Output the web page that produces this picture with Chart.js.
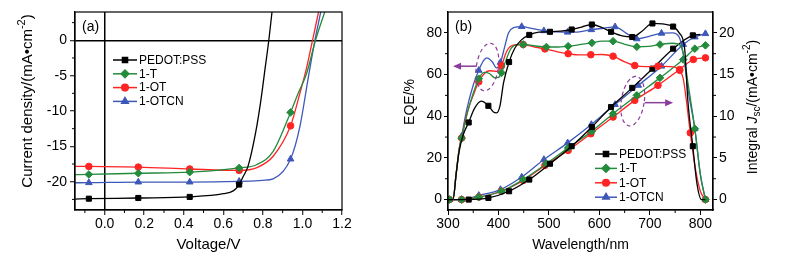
<!DOCTYPE html>
<html>
<head>
<meta charset="utf-8">
<script src="https://cdn.jsdelivr.net/npm/chart.js@4.4.0/dist/chart.umd.min.js"></script>
<style>
  html, body { margin: 0; padding: 0; background: #fff; }
  #wrap { position: relative; width: 785px; height: 261px; overflow: hidden; }
  #jv { position: absolute; left: 0; top: 0; }
  #eqe { position: absolute; left: 390px; top: 0; }
</style>
</head>
<body>
<div id="wrap">
  <canvas id="jv" width="390" height="261"></canvas>
  <canvas id="eqe" width="395" height="261"></canvas>
</div>
<script>
const FONT = '"Liberation Sans", Arial, sans-serif';
const names = ['PEDOT:PSS', '1-T', '1-OT', '1-OTCN'];
const colors = ['#000000', '#238b3c', '#ff2424', '#3d58b8'];
const shapes = ['rect', 'rectRot', 'circle', 'triangle'];
const sizes = [3.6, 3.8, 3.3, 3.8];

// ---- (a) J-V curves ----
const jvTicksX = [0, 0.2, 0.4, 0.6, 0.8, 1.0, 1.2];
const jvTicksY = [-20, -15, -10, -5, 0];
const jvMarks = [-0.08, 0.17, 0.43, 0.68, 0.94];

const pedotV = [-0.15, -0.08, 0.17, 0.43, 0.6, 0.65, 0.68, 0.70, 0.725, 0.763, 0.79, 0.812, 0.83, 0.848];
const pedotJ = [-22.45, -22.4, -22.3, -22.15, -21.7, -21.3, -20.4, -19.3, -17.8, -13.1, -8.45, -3.8, 0, 4.5];
const tV = [-0.15, -0.08, 0.17, 0.43, 0.68, 0.768, 0.852, 0.94, 0.98, 1.021, 1.066, 1.115];
const tJ = [-19.0, -18.97, -18.8, -18.65, -18.05, -17.6, -15.7, -10.2, -7.4, -4.7, 0, 4.2];
const otV = [-0.15, -0.08, 0.17, 0.43, 0.68, 0.77, 0.852, 0.94, 0.987, 1.02, 1.051, 1.083];
const otJ = [-17.82, -17.84, -17.93, -18.2, -18.4, -18.0, -16.4, -12.1, -7.5, -4.0, 0, 4.2];
const otcnV = [-0.15, -0.08, 0.17, 0.43, 0.68, 0.8, 0.852, 0.94, 0.987, 1.03, 1.063, 1.094];
const otcnJ = [-20.15, -20.14, -20.05, -20.05, -19.95, -19.8, -19.6, -16.8, -12.2, -5.2, 0, 4.2];

// ---- (b) EQE and integral Jsc ----
const wlTicks = [300, 400, 500, 600, 700, 800];
const eqeTicks = [0, 20, 40, 60, 80];
const jscTicks = [0, 5, 10, 15, 20];

const pedotEqeWl = [300,310,316,322,330,341,352,366,380,390,396,403,410,421,432,445,461,480,502,523,545,565,585,605,623,645,665,683,705,725,746,758,769,775,785,793,802,810];
const pedotEqe = [0,0,12,23,31,37,43.5,47.2,45,42,41.6,45,56,66,72.5,76.5,79,80.3,80.5,80.8,81.6,82.8,84,82.5,80.5,78.5,78,80.5,84.5,84.3,83,80,72,48,25.6,8,0,0];
const pedotEqeMarks = [341,380,421,461,502,545,585,623,665,705,746,785];

const tEqeWl = [300,310,316,322,327,340,350,361,372,382,393,400,406,415,425,437,449,470,495,515,538,560,585,605,627,650,674,697,720,745,760,768,776,789,800,810];
const tEqe = [0,0,12,24,29.5,43,51,58,61,60.5,58.4,58.6,60.8,67,72.5,74.3,74.4,73.8,73.2,73.2,73.6,74.3,75.2,76,76,74.5,73.3,73.5,74.4,75,74,68,55,34,12,0];
const tEqeMarks = [327,361,406,449,495,538,585,627,674,720,789,810];

const otEqeWl = [300,310,316,322,327,337,350,361,372,382,392,399,406,416,428,449,470,492,515,538,560,583,605,627,648,670,693,716,740,759,766,772,780,790,800,810];
const otEqe = [0,0,12,24,29.5,41,50,56.5,60.5,61.8,61.6,61.5,64.2,71,74,74.4,73.3,72.3,71,70,69.4,69.5,69.6,68.8,66.3,64.3,63.8,64,63.8,62,58,48,32,15,4,0];
const otEqeMarks = [327,361,406,449,492,538,583,627,670,716,759,780,810];

const otcnEqeWl = [300,310,316,322,327,337,350,361,370,377,388,396,404,412,420,430,446,468,490,515,537,560,584,608,631,652,674,697,723,745,758,766,776,789,800,810];
const otcnEqe = [0,0,12,24,30.4,43,55,62,66.5,68,66,63.2,65.8,73,80,82.5,83,82,81,80.5,80.3,80.5,81.5,82.2,82.9,80,77.1,78.2,79.8,80,78,70,52,34,12,0];
const otcnEqeMarks = [327,361,404,446,490,537,584,631,674,723,789,810];

const pedotJscWl = [300,341,380,421,461,502,545,585,623,665,705,746,785,800];
const pedotJsc = [0,0,0.2,1.0,2.4,4.3,6.4,8.7,11.1,13.4,15.7,18.1,19.7,19.8];
const tJscWl = [303,327,361,406,449,495,538,585,627,674,720,766,789,810];
const tJsc = [0,0,0.3,1.0,2.4,4.3,6.2,8.2,10.3,12.5,14.6,16.8,18.1,18.5];
const otJscWl = [303,327,361,406,449,492,538,583,627,670,716,759,786,810];
const otJsc = [0,0,0.3,1.0,2.3,4.1,5.9,7.9,9.9,11.9,13.7,15.6,16.8,17.0];
const otcnJscWl = [303,327,361,404,446,490,537,584,631,677,723,766,789,810];
const otcnJsc = [0,0,0.5,1.2,2.7,4.8,6.8,9.0,11.4,13.7,16.0,18.6,19.5,19.9];

function pts(xs, ys) { return xs.map((x, i) => ({ x: x, y: ys[i] })); }

function series(i, xs, ys, marks, axis) {
  return {
    label: names[i],
    data: pts(xs, ys),
    yAxisID: axis,
    borderColor: colors[i],
    backgroundColor: colors[i],
    borderWidth: 1.3,
    cubicInterpolationMode: 'monotone',
    pointStyle: shapes[i],
    markerSize: sizes[i],
    pointRadius: c => (c.raw && (marks === true || marks.includes(c.raw.x))) ? sizes[i] : 0,
    pointHoverRadius: 0,
    pointBackgroundColor: colors[i],
    pointBorderColor: colors[i],
    pointBorderWidth: 1
  };
}

// frame box + minor ticks
const framePlugin = {
  id: 'frame',
  afterDraw(chart, args, opts) {
    const { ctx, chartArea: a } = chart;
    ctx.save();
    ctx.strokeStyle = '#000';
    ctx.lineWidth = 1.2;
    ctx.strokeRect(a.left, a.top, a.right - a.left, a.bottom - a.top);
    ctx.lineWidth = 1;
    (opts.minor || []).forEach(m => {
      const s = chart.scales[m.id];
      for (let k = 0; ; k++) {
        const v = m.from + k * m.step;
        if (v > m.to + 1e-9) break;
        const p = s.getPixelForValue(v);
        ctx.beginPath();
        if (m.side === 'bottom') { ctx.moveTo(p, a.bottom); ctx.lineTo(p, a.bottom + 3); }
        else if (m.side === 'left') { ctx.moveTo(a.left, p); ctx.lineTo(a.left - 3, p); }
        else { ctx.moveTo(a.right, p); ctx.lineTo(a.right + 3, p); }
        ctx.stroke();
      }
    });
    ctx.restore();
  }
};

// legend drawn inside the plot
const boxLegend = {
  id: 'boxLegend',
  afterDraw(chart, args, o) {
    const ctx = chart.ctx;
    ctx.save();
    ctx.font = '12px ' + FONT;
    ctx.textBaseline = 'middle';
    ctx.textAlign = 'left';
    o.items.forEach((idx, i) => {
      const ds = chart.data.datasets[idx];
      const y = o.y + i * o.gap;
      ctx.strokeStyle = ds.borderColor;
      ctx.fillStyle = ds.borderColor;
      ctx.lineWidth = 1.5;
      ctx.beginPath();
      ctx.moveTo(o.x, y);
      ctx.lineTo(o.x + o.len, y);
      ctx.stroke();
      Chart.helpers.drawPoint(ctx, { pointStyle: ds.pointStyle, radius: ds.markerSize, borderWidth: 1, rotation: 0 }, o.x + o.len / 2, y);
      ctx.fillStyle = '#000';
      ctx.fillText(ds.label, o.x + o.len + 2, y + 0.5);
    });
    ctx.restore();
  }
};

// rotated axis title with super/subscripts
function richTitle(ctx, parts, x, y, size) {
  ctx.save();
  ctx.translate(x, y);
  ctx.rotate(-Math.PI / 2);
  const fontOf = p => (p.it ? 'italic ' : '') + ((p.sup || p.sub) ? Math.round(size * 0.7) : size) + 'px ' + FONT;
  let w = 0;
  parts.forEach(p => { ctx.font = fontOf(p); p.w = ctx.measureText(p.t).width; w += p.w; });
  let cx = -w / 2;
  ctx.textBaseline = 'middle';
  ctx.textAlign = 'left';
  ctx.fillStyle = '#000';
  parts.forEach(p => {
    ctx.font = fontOf(p);
    const dy = p.sup ? -size * 0.38 : (p.sub ? size * 0.28 : 0);
    ctx.fillText(p.t, cx, dy);
    cx += p.w;
  });
  ctx.restore();
}

function ellipse(ctx, x, y, rx, ry, rot) {
  ctx.beginPath();
  ctx.ellipse(x, y, rx, ry, rot, 0, Math.PI * 2);
  ctx.stroke();
}

function arrow(ctx, x1, y1, x2, y2) {
  const dir = Math.sign(x2 - x1);
  ctx.beginPath();
  ctx.moveTo(x1, y1);
  ctx.lineTo(x2 - dir * 6, y2);
  ctx.stroke();
  ctx.beginPath();
  ctx.moveTo(x2, y2);
  ctx.lineTo(x2 - dir * 8, y2 - 3.5);
  ctx.lineTo(x2 - dir * 8, y2 + 3.5);
  ctx.closePath();
  ctx.fill();
}

const jvDecor = {
  id: 'jvDecor',
  afterDraw(chart) {
    const ctx = chart.ctx;
    ctx.save();
    ctx.fillStyle = '#000';
    ctx.font = '14px ' + FONT;
    ctx.textBaseline = 'middle';
    ctx.fillText('(a)', 82, 27);
    ctx.restore();
    richTitle(ctx, [{ t: 'Current density/(mA•cm' }, { t: '-2', sup: true }, { t: ')' }], 28, 101, 15);
  }
};

const eqeDecor = {
  id: 'eqeDecor',
  afterDraw(chart) {
    const ctx = chart.ctx;
    const sx = chart.scales.x, sy = chart.scales.y;
    ctx.save();
    ctx.fillStyle = '#000';
    ctx.font = '14px ' + FONT;
    ctx.textBaseline = 'middle';
    ctx.fillText('(b)', 65, 27);
    // purple guides
    ctx.strokeStyle = '#8c3c9c';
    ctx.fillStyle = '#8c3c9c';
    ctx.lineWidth = 1.2;
    ctx.setLineDash([4, 3]);
    ellipse(ctx, sx.getPixelForValue(378), sy.getPixelForValue(63.6), 11, 24, 0.15);
    ellipse(ctx, sx.getPixelForValue(666), sy.getPixelForValue(47.2), 11.5, 25, 0.15);
    ctx.setLineDash([]);
    ctx.lineWidth = 1.5;
    arrow(ctx, sx.getPixelForValue(357), sy.getPixelForValue(64), sx.getPixelForValue(310), sy.getPixelForValue(64));
    arrow(ctx, sx.getPixelForValue(690), sy.getPixelForValue(46.5), sx.getPixelForValue(746), sy.getPixelForValue(46.5));
    ctx.restore();
    richTitle(ctx, [{ t: 'EQE/%' }], 20, 102, 14);
    richTitle(ctx, [{ t: 'Integral ' }, { t: 'J', it: true }, { t: 'sc', sub: true }, { t: '/(mA•cm' }, { t: '-2', sup: true }, { t: ')' }], 363, 107, 14);
  }
};

const tickFont = { family: FONT, size: 14 };

// ---- chart (a) ----
new Chart(document.getElementById('jv'), {
  type: 'line',
  data: {
    datasets: [
      series(0, pedotV, pedotJ, jvMarks, 'y'),
      series(1, tV, tJ, jvMarks, 'y'),
      series(2, otV, otJ, jvMarks, 'y'),
      series(3, otcnV, otcnJ, jvMarks, 'y')
    ]
  },
  options: {
    responsive: false,
    animation: false,
    layout: { padding: { left: 0, top: 12, right: 48, bottom: 0 } },
    plugins: {
      legend: { display: false },
      tooltip: { enabled: false },
      frame: {
        minor: [
          { id: 'x', from: -0.1, to: 1.1, step: 0.2, side: 'bottom' },
          { id: 'y', from: -22.5, to: 2.5, step: 5, side: 'left' }
        ]
      },
      boxLegend: { items: [0, 1, 2, 3], x: 113, len: 24, y: 60, gap: 13.8 }
    },
    scales: {
      x: {
        type: 'linear', min: -0.15, max: 1.2,
        afterBuildTicks: s => { s.ticks = jvTicksX.map(v => ({ value: v })); },
        afterFit: s => { s.height = 51; },
        ticks: { font: tickFont, color: '#000', padding: 1, maxRotation: 0, callback: v => Number(v).toFixed(1) },
        grid: { color: c => (c.tick && c.tick.value === 0) ? '#000' : 'rgba(0,0,0,0)', lineWidth: 1.5, tickColor: '#000', tickLength: 5, tickWidth: 1 },
        border: { display: true, color: '#000', width: 1.2 },
        title: { display: true, text: 'Voltage/V', font: { family: FONT, size: 15 }, color: '#000', padding: { top: 0, bottom: 7 } }
      },
      y: {
        type: 'linear', min: -24, max: 4,
        afterBuildTicks: s => { s.ticks = jvTicksY.map(v => ({ value: v })); },
        afterFit: s => { s.width = 75; },
        ticks: { font: tickFont, color: '#000', padding: 3, callback: v => String(v) },
        grid: { color: c => (c.tick && c.tick.value === 0) ? '#000' : 'rgba(0,0,0,0)', lineWidth: 1.5, tickColor: '#000', tickLength: 5, tickWidth: 1 },
        border: { display: true, color: '#000', width: 1.2 }
      }
    }
  },
  plugins: [framePlugin, boxLegend, jvDecor]
});

// ---- chart (b) ----
new Chart(document.getElementById('eqe'), {
  type: 'line',
  data: {
    datasets: [
      series(0, pedotEqeWl, pedotEqe, pedotEqeMarks, 'y'),
      series(1, tEqeWl, tEqe, tEqeMarks, 'y'),
      series(2, otEqeWl, otEqe, otEqeMarks, 'y'),
      series(3, otcnEqeWl, otcnEqe, otcnEqeMarks, 'y'),
      series(0, pedotJscWl, pedotJsc, pedotEqeMarks, 'y2'),
      series(1, tJscWl, tJsc, true, 'y2'),
      series(2, otJscWl, otJsc, true, 'y2'),
      series(3, otcnJscWl, otcnJsc, true, 'y2')
    ]
  },
  options: {
    responsive: false,
    animation: false,
    layout: { padding: { left: 0, top: 12, right: 0, bottom: 0 } },
    plugins: {
      legend: { display: false },
      tooltip: { enabled: false },
      frame: {
        minor: [
          { id: 'x', from: 350, to: 750, step: 100, side: 'bottom' },
          { id: 'y', from: 10, to: 70, step: 20, side: 'left' },
          { id: 'y2', from: 2.5, to: 17.5, step: 5, side: 'right' }
        ]
      },
      boxLegend: { items: [0, 1, 2, 3], x: 205, len: 22, y: 154, gap: 14.4 }
    },
    scales: {
      x: {
        type: 'linear', min: 300, max: 825,
        afterBuildTicks: s => { s.ticks = wlTicks.map(v => ({ value: v })); },
        afterFit: s => { s.height = 51; },
        ticks: { font: tickFont, color: '#000', padding: 1, maxRotation: 0, callback: v => String(v) },
        grid: { drawOnChartArea: false, tickColor: '#000', tickLength: 5, tickWidth: 1 },
        border: { display: true, color: '#000', width: 1.2 },
        title: { display: true, text: 'Wavelength/nm', font: { family: FONT, size: 14 }, color: '#000', padding: { top: 0, bottom: 7.5 } }
      },
      y: {
        type: 'linear', position: 'left', min: -5, max: 90,
        afterBuildTicks: s => { s.ticks = eqeTicks.map(v => ({ value: v })); },
        afterFit: s => { s.width = 58; },
        ticks: { font: tickFont, color: '#000', padding: 2, callback: v => String(v) },
        grid: { drawOnChartArea: false, tickColor: '#000', tickLength: 4, tickWidth: 1 },
        border: { display: true, color: '#000', width: 1.2 }
      },
      y2: {
        type: 'linear', position: 'right', min: -1.25, max: 22.5,
        afterBuildTicks: s => { s.ticks = jscTicks.map(v => ({ value: v })); },
        afterFit: s => { s.width = 72; },
        ticks: { font: tickFont, color: '#000', padding: 2, callback: v => String(v) },
        grid: { drawOnChartArea: false, tickColor: '#000', tickLength: 4, tickWidth: 1 },
        border: { display: true, color: '#000', width: 1.2 }
      }
    }
  },
  plugins: [framePlugin, boxLegend, eqeDecor]
});
</script>
</body>
</html>
